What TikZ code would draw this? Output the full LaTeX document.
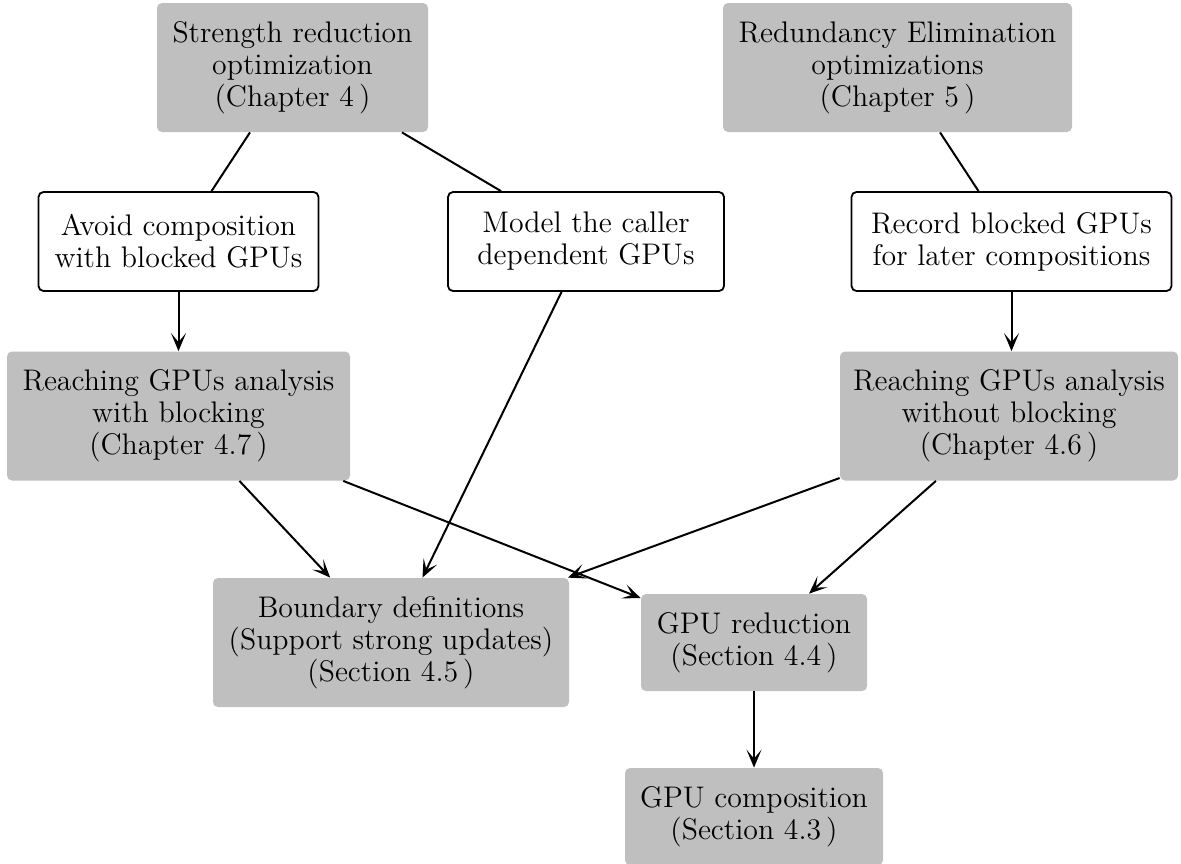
\documentclass[tikz,border=0pt]{standalone}
\usetikzlibrary{arrows.meta}
\begin{document}
\begin{tikzpicture}[x=0.5pt,y=-0.5pt,
  every node/.style={font=\fontsize{14.9}{16}\selectfont, align=center, inner sep=0pt},
  graybox/.style={fill=gray!50, rounded corners=2.5pt},
  whitebox/.style={draw=black, fill=white, line width=0.9pt, rounded corners=2.5pt},
  link/.style={line width=1pt},
  flow/.style={line width=1pt, -{Stealth[length=9pt,width=7.5pt,inset=4.5pt]}}]
\useasboundingbox (0,0) rectangle (1181,863);

% Optimizations
\node[graybox, minimum width=135.5pt, minimum height=64.5pt] (sr) at (292.5,67.5)
  {Strength reduction\\optimization\\(Chapter 4\,)};
\node[graybox, minimum width=174.5pt, minimum height=64.5pt] (re) at (897.5,67.5)
  {Redundancy Elimination\\optimizations\\(Chapter 5\,)};

% Techniques
\node[whitebox, minimum width=140pt, minimum height=49.5pt] (avoid) at (178.5,241.5)
  {Avoid composition\\with blocked GPUs};
\node[whitebox, minimum width=138pt, minimum height=49.5pt] (model) at (586,241.5)
  {Model the caller\\dependent GPUs};
\node[whitebox, minimum width=160pt, minimum height=49.5pt] (record) at (1011.5,241.5)
  {Record blocked GPUs\\for later compositions};

% Analyses
\node[graybox, minimum width=171.5pt, minimum height=64.5pt] (rwb) at (178.5,416)
  {Reaching GPUs analysis\\with blocking\\(Chapter 4.7\,)};
\node[graybox, minimum width=169pt, minimum height=64.5pt] (rnb) at (1009,416)
  {Reaching GPUs analysis\\without blocking\\(Chapter 4.6\,)};

% Building blocks
\node[graybox, minimum width=178pt, minimum height=64.5pt] (bd) at (391,642.5)
  {Boundary definitions\\(Support strong updates)\\(Section 4.5\,)};
\node[graybox, minimum width=113pt, minimum height=48.5pt] (red) at (754,642.5)
  {GPU reduction\\(Section 4.4\,)};
\node[graybox, minimum width=129pt, minimum height=48.5pt] (comp) at (754,816.5)
  {GPU composition\\(Section 4.3\,)};

% Connectors
\draw[link] (sr) -- (avoid);
\draw[link] (sr) -- (model);
\draw[link] (re) -- (record);
\draw[flow] (avoid) -- (rwb);
\draw[flow] (record.south) -- (record.south |- rnb.north);
\draw[flow] (model) -- (bd);
\draw[flow] (rwb) -- (bd);
\draw[flow] (rwb) -- (red);
\draw[flow] (rnb) -- (bd);
\draw[flow] (rnb) -- (red);
\draw[flow] (red) -- (comp);
\end{tikzpicture}
\end{document}
